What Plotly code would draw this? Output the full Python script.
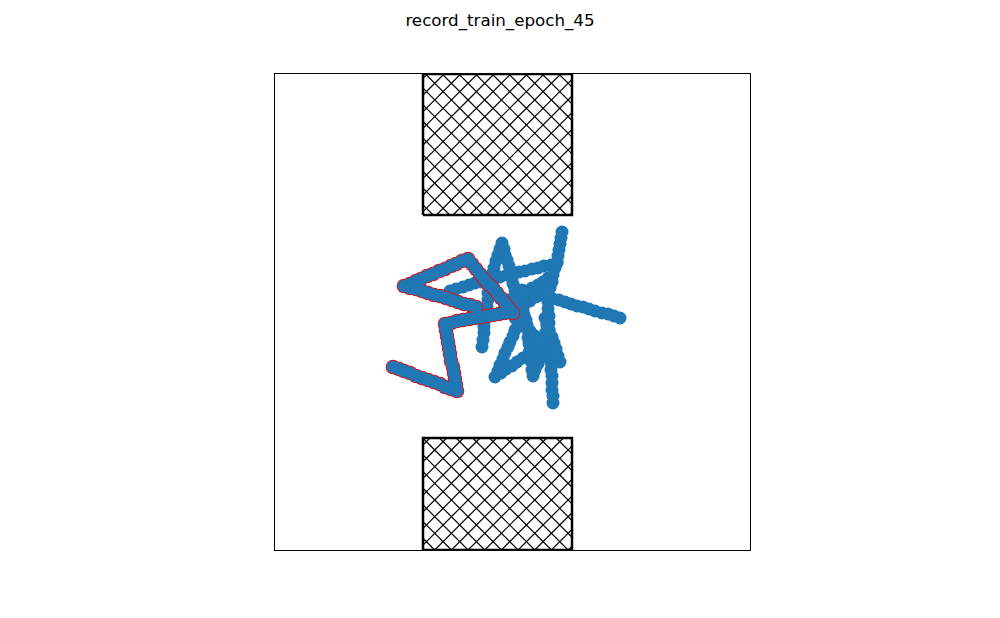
import plotly.graph_objects as go

# World is 475 x 476 units
x_range = [0, 475]
y_range = [0, 476]

# Obstacles (x0, x1, y0, y1)
obstacle_top = [148, 297, 335, 476]
obstacle_bottom = [148, 297, 0, 112]

# Highlighted (red-edged) trajectory
red_x = [238, 234, 230, 226, 222, 218, 213, 209, 205, 201, 197, 193,
         187, 181, 176, 170, 164, 158, 152, 146, 141, 135, 129,
         135, 141, 147, 153, 159, 165, 171, 177, 183, 189, 195, 201,
         230, 224, 218, 212, 206, 200, 194, 188, 182, 176, 170,
         171, 172, 173, 174, 175, 176, 178, 179, 180, 181, 182,
         176, 170, 165, 159, 153, 147, 141, 135, 129, 124, 118]
red_y = [237, 242, 247, 252, 257, 262, 266, 271, 276, 281, 286, 291,
         289, 286, 284, 281, 279, 276, 274, 271, 269, 266, 264,
         262, 261, 259, 257, 255, 254, 252, 250, 248, 246, 245, 243,
         237, 236, 235, 234, 233, 232, 231, 230, 229, 227, 226,
         220, 214, 208, 202, 196, 189, 183, 177, 171, 165, 159,
         161, 163, 166, 168, 170, 172, 174, 177, 179, 181, 183]

# Other trajectories
traj1_x = [278, 278, 277, 277, 277, 276, 276, 275, 275, 275, 274, 274,
           274, 274, 273, 273, 273, 275, 277, 278, 280, 282,
           283, 284, 285, 286, 287]
traj1_y = [147, 154, 160, 167, 174, 180, 187, 193, 200, 207, 213, 220,
           227, 234, 241, 248, 255, 262, 268, 275, 282, 288,
           294, 300, 306, 312, 318]
traj2_x = [175, 181, 188, 194, 200, 206, 213, 219, 225, 232, 238, 244, 250, 257, 263, 269, 276, 282]
traj2_y = [259, 261, 263, 265, 267, 268, 270, 272, 273, 275, 276, 278, 279, 281, 282, 284, 285, 287]
traj3_x = [247, 253, 259, 265, 271, 278, 284, 290, 296, 302, 308, 314, 320, 327, 333, 339, 345]
traj3_y = [260, 258, 257, 255, 253, 251, 250, 248, 246, 244, 243, 241, 239, 237, 236, 234, 232]
traj4_x = [227, 225, 223, 221, 219, 217, 215, 214, 213, 213, 212, 211, 210, 209, 209, 208, 207]
traj4_y = [307, 301, 295, 289, 282, 276, 270, 263, 257, 250, 243, 237, 230, 223, 217, 210, 203]
traj5_x = [229, 230, 232, 234, 235, 237, 238, 240, 241, 242, 244, 245]
traj5_y = [301, 295, 290, 284, 278, 272, 266, 260, 254, 247, 241, 235]
traj6_x = [220, 223, 225, 228, 230, 233, 235, 238, 240, 243, 245]
traj6_y = [173, 179, 185, 191, 197, 203, 208, 214, 220, 226, 232]
traj7_x = [226, 231, 237, 242, 248, 254, 259, 265, 270]
traj7_y = [177, 181, 184, 188, 192, 197, 201, 206, 210]
traj8_x = [258, 257, 257, 256, 255, 254, 253, 253, 252, 251, 249, 248]
traj8_y = [174, 180, 187, 193, 200, 206, 212, 219, 225, 230, 235, 240]
traj9_x = [260, 263, 265, 268, 270, 271, 271, 272, 272]
traj9_y = [180, 186, 192, 199, 205, 211, 218, 224, 230]
traj10_x = [285, 283, 281, 279, 277, 274, 272, 270]
traj10_y = [188, 194, 201, 207, 213, 219, 226, 232]
traj11_x = [237, 243, 249, 255, 261, 267, 273]
traj11_y = [238, 242, 245, 249, 253, 256, 260]
traj12_x = [240, 245, 250, 255, 260, 265, 270]
traj12_y = [232, 228, 223, 219, 214, 210, 205]
traj13_x = [233, 239, 245, 251, 257, 263, 268, 273]
traj13_y = [250, 253, 256, 259, 262, 265, 268, 272]

blue_x = [traj1_x, traj2_x, traj3_x, traj4_x, traj5_x, traj6_x, traj7_x,
          traj8_x, traj9_x, traj10_x, traj11_x, traj12_x, traj13_x]
blue_y = [traj1_y, traj2_y, traj3_y, traj4_y, traj5_y, traj6_y, traj7_y,
          traj8_y, traj9_y, traj10_y, traj11_y, traj12_y, traj13_y]

BLUE = "#1f77b4"
MSIZE = 13
HATCH_SPACING = 16.67  # style: spacing of the cross-hatch lines
HATCH_OFFSET = 207


def hatch_segments(x0, x1, y0, y1, spacing, offset):
    """Cross-hatch ('x') lines clipped to a rectangle."""
    xs, ys = [], []
    # lines with slope +1: y = x - c ; slope -1: y = -x + c
    for sign in (1, -1):
        if sign == 1:
            cmin, cmax = x0 - y1, x1 - y0
        else:
            cmin, cmax = x0 + y0, x1 + y1
        k = int((cmin + offset) // spacing) - 1
        while True:
            c = k * spacing - offset
            k += 1
            if c < cmin:
                continue
            if c > cmax:
                break
            pts = []
            for xe in (x0, x1):
                ye = sign * xe - sign * c if sign == 1 else -xe + c
                if y0 <= ye <= y1:
                    pts.append((xe, ye))
            for ye in (y0, y1):
                xe = ye + c if sign == 1 else c - ye
                if x0 <= xe <= x1:
                    pts.append((xe, ye))
            if len(pts) >= 2:
                pts.sort()
                xs += [pts[0][0], pts[-1][0], None]
                ys += [pts[0][1], pts[-1][1], None]
    return xs, ys


fig = go.Figure()

for ob in (obstacle_top, obstacle_bottom):
    x0, x1, y0, y1 = ob
    hx, hy = hatch_segments(x0, x1, y0, y1, HATCH_SPACING, HATCH_OFFSET)
    fig.add_trace(go.Scatter(x=hx, y=hy, mode="lines",
                             line=dict(color="black", width=1.2),
                             hoverinfo="skip", showlegend=False))
    fig.add_trace(go.Scatter(
        x=[x0, x1, x1, x0, x0], y=[y0, y0, y1, y1, y0],
        mode="lines", line=dict(color="black", width=2.5),
        hoverinfo="skip", showlegend=False))

for xs, ys in zip(blue_x, blue_y):
    fig.add_trace(go.Scatter(x=xs, y=ys, mode="markers",
                             marker=dict(size=MSIZE, color=BLUE, line=dict(width=0)),
                             showlegend=False))

fig.add_trace(go.Scatter(x=red_x, y=red_y, mode="markers",
                         marker=dict(size=MSIZE + 1.6, color="red", line=dict(width=0)),
                         showlegend=False))
fig.add_trace(go.Scatter(x=red_x, y=red_y, mode="markers",
                         marker=dict(size=MSIZE, color=BLUE, line=dict(width=0)),
                         showlegend=False))

fig.update_layout(
    width=1000, height=618,
    margin=dict(l=275, r=250, t=74, b=68),
    paper_bgcolor="white", plot_bgcolor="white",
    title=dict(text="record_train_epoch_45", x=0.5, xanchor="center",
               y=1 - 20 / 618, yref="container", yanchor="middle",
               font=dict(family="DejaVu Sans", size=16.7, color="black")),
    xaxis=dict(range=x_range, showgrid=False, zeroline=False, showticklabels=False,
               ticks="", showline=True, mirror=True, linecolor="black", linewidth=1),
    yaxis=dict(range=y_range, showgrid=False, zeroline=False, showticklabels=False,
               ticks="", showline=True, mirror=True, linecolor="black", linewidth=1),
)

fig.write_html("out.html")
